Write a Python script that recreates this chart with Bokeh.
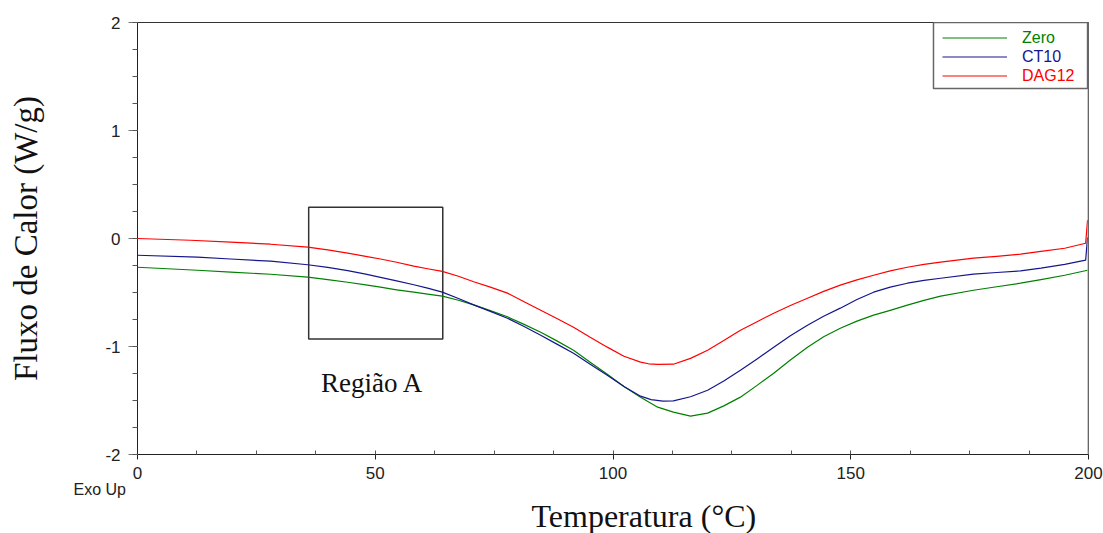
from bokeh.plotting import figure
from bokeh.models import (Range1d, FixedTicker, Legend, LegendItem, Label, Span, Title,
                          BoxAnnotation, CustomJSTickFormatter)
from bokeh.embed import file_html
from bokeh.resources import INLINE

# ---- data ----
zero_x = [0, 12.6, 19.6, 28.0, 35.8, 40.0, 44.2, 48.0, 51.1, 54.5, 58.1, 61.0, 64.1, 67.5,
          70.7, 74.2, 77.8, 81.3, 84.8, 88.2, 91.7, 95.2, 98.8, 102.3, 105.8, 109.4, 112.7,
          116.3, 119.9, 123.3, 126.8, 130.3, 133.8, 137.3, 140.9, 144.3, 147.8, 151.3,
          154.8, 158.3, 161.9, 165.4, 168.9, 175.8, 180.7, 185.7, 190.0, 195.0, 199.8]
zero_y = [-0.266, -0.294, -0.312, -0.331, -0.358, -0.380, -0.405, -0.430, -0.451, -0.475,
          -0.497, -0.515, -0.534, -0.572, -0.615, -0.668, -0.725, -0.795, -0.868, -0.948,
          -1.034, -1.145, -1.256, -1.370, -1.469, -1.562, -1.608, -1.645, -1.617, -1.550,
          -1.469, -1.360, -1.247, -1.125, -1.006, -0.910, -0.831, -0.765, -0.710, -0.665,
          -0.617, -0.573, -0.534, -0.479, -0.447, -0.414, -0.380, -0.340, -0.294]

ct10_x = [0, 12.6, 19.6, 28.0, 35.8, 40.0, 44.2, 48.0, 51.1, 54.5, 58.1, 61.0, 64.1, 67.5,
          70.7, 74.2, 77.8, 81.3, 84.8, 88.2, 91.7, 95.2, 98.8, 102.3, 105.8, 108.0, 110.5,
          112.7, 116.3, 119.9, 123.3, 126.8, 130.3, 133.8, 137.3, 140.9, 144.3, 147.8,
          151.3, 154.8, 158.3, 161.9, 165.4, 168.9, 175.8, 180.7, 185.7, 190.0, 195.0,
          199.4, 199.8]
ct10_y = [-0.155, -0.173, -0.190, -0.210, -0.243, -0.268, -0.298, -0.330, -0.360, -0.392,
          -0.428, -0.460, -0.497, -0.555, -0.615, -0.675, -0.738, -0.815, -0.895, -0.978,
          -1.062, -1.165, -1.266, -1.370, -1.460, -1.492, -1.505, -1.504, -1.465, -1.405,
          -1.320, -1.220, -1.115, -1.007, -0.900, -0.803, -0.720, -0.645, -0.565, -0.497,
          -0.450, -0.414, -0.388, -0.368, -0.330, -0.315, -0.300, -0.275, -0.240, -0.201,
          0.010]

dag12_x = [0, 11.1, 19.6, 28.0, 35.8, 40.0, 44.2, 48.0, 51.1, 54.5, 58.1, 61.0, 64.1, 67.5,
           70.7, 74.2, 77.8, 81.3, 84.8, 88.2, 91.7, 95.2, 98.8, 102.3, 105.8, 107.5, 109.4,
           112.7, 116.3, 119.9, 123.3, 126.8, 130.3, 133.8, 137.3, 140.9, 144.3, 147.8,
           151.3, 154.8, 158.3, 161.9, 165.4, 168.9, 175.8, 180.7, 185.7, 190.0, 195.0,
           199.4, 199.8]
dag12_y = [0.000, -0.016, -0.034, -0.053, -0.080, -0.105, -0.135, -0.165, -0.190, -0.220,
           -0.255, -0.280, -0.305, -0.350, -0.400, -0.450, -0.506, -0.585, -0.664, -0.740,
           -0.821, -0.915, -1.006, -1.090, -1.145, -1.160, -1.166, -1.164, -1.110, -1.034,
           -0.945, -0.849, -0.770, -0.692, -0.620, -0.553, -0.490, -0.432, -0.383, -0.340,
           -0.300, -0.266, -0.240, -0.219, -0.182, -0.165, -0.145, -0.120, -0.090, -0.044,
           0.170]

series_names = ["Zero", "CT10", "DAG12"]
series_colors = ["#008000", "#16168c", "#ff0000"]

x_major = [0, 50, 100, 150, 200]
x_minor = [12.5 * i for i in range(17)]
y_major = [-2, -1, 0, 1, 2]
y_minor = [-2 + 0.25 * i for i in range(17)]

x_title = "Temperatura (°C)"
y_title = "Fluxo de Calor (W/g)"
exo_text = "Exo Up"
region_label = "Região A"
region_a = dict(left=36.0, right=64.2, top=0.29, bottom=-0.93)

# ---- figure ----
p = figure(width=1103, height=533, output_backend="svg", toolbar_location=None,
           x_range=Range1d(0, 200), y_range=Range1d(-2, 2),
           min_border_left=137, min_border_right=15, min_border_top=22, min_border_bottom=79)
p.grid.visible = False
p.outline_line_color = "#333333"
p.background_fill_color = "white"
p.border_fill_color = "white"

SANS = "Liberation Sans"
SERIF = "Liberation Serif"
fmt = CustomJSTickFormatter(code="return String(tick);")

xa = p.xaxis[0]
xa.ticker = FixedTicker(ticks=x_major, minor_ticks=x_minor)
xa.formatter = fmt
xa.major_tick_out = 5
xa.major_tick_in = 0
xa.minor_tick_out = 0
xa.minor_tick_in = 4
xa.major_label_standoff = 7
xa.major_label_text_font = SANS
xa.major_label_text_font_size = "17px"
xa.major_label_text_color = "#222222"
xa.axis_line_color = "#222222"
xa.major_tick_line_color = "#222222"
xa.minor_tick_line_color = "#555555"

ya = p.yaxis[0]
ya.ticker = FixedTicker(ticks=y_major, minor_ticks=y_minor)
ya.formatter = fmt
ya.major_tick_out = 9
ya.major_tick_in = 0
ya.minor_tick_out = 5
ya.minor_tick_in = 0
ya.major_label_standoff = 8
ya.major_label_text_font = SANS
ya.major_label_text_font_size = "17px"
ya.major_label_text_color = "#222222"
ya.axis_line_color = "#222222"
ya.major_tick_line_color = "#777777"
ya.minor_tick_line_color = "#555555"
ya.axis_label = y_title
ya.axis_label_text_font = SERIF
ya.axis_label_text_font_size = "33px"
ya.axis_label_text_font_style = "normal"
ya.axis_label_text_color = "#111111"
ya.axis_label_standoff = 58

# "Exo Up" just under the x tick labels, left of the frame
p.add_layout(Title(text=exo_text, align="left", offset=-64, standoff=-5,
                   text_font=SANS, text_font_size="16px", text_font_style="normal",
                   text_color="#222222"), "below")
# x axis title, shifted right like the reference
p.add_layout(Title(text=x_title, align="left", offset=394, standoff=0,
                   text_font=SERIF, text_font_size="32px", text_font_style="normal",
                   text_line_height=0.8, text_color="#111111"), "below")

# right frame edge (gray)
p.add_layout(Span(location=200, dimension="height", line_color="#999999", line_width=2))

# region A box
p.quad(left=[region_a["left"]], right=[region_a["right"]], top=[region_a["top"]],
       bottom=[region_a["bottom"]], fill_alpha=0, line_color="#333333", line_width=1.5)
p.add_layout(Label(x=49.4, y=-1.34, text=region_label,
                   text_font=SERIF, text_font_size="27px", text_color="#111111",
                   text_align="center", text_baseline="middle"))

xs = [zero_x, ct10_x, dag12_x]
ys = [zero_y, ct10_y, dag12_y]
renderers = []
for sx, sy, c in zip(xs, ys, series_colors):
    r = p.line(sx, sy, line_color=c, line_width=1.2, line_join="round")
    renderers.append(r)

# legend frame
p.add_layout(BoxAnnotation(left=167.4, right=199.8, top=2.0, bottom=1.39,
                           fill_color="white", fill_alpha=1.0,
                           line_color="#666666", line_width=1.5, line_alpha=1.0))

# one borderless legend per series so each label keeps its own colour
frame_h = 533 - 22 - 79
row = 19
for i, (n, r, c) in enumerate(zip(series_names, renderers, series_colors)):
    lg = Legend(items=[LegendItem(label=n, renderers=[r])],
                location=(805, frame_h - 6 - row * i - row), padding=0, spacing=0,
                label_height=row, glyph_height=row, glyph_width=65, label_standoff=15,
                label_text_font=SANS, label_text_font_size="16px", label_text_color=c,
                border_line_color=None, background_fill_alpha=0, margin=0)
    p.add_layout(lg)

open("out.html", "w").write(file_html(p, INLINE))
